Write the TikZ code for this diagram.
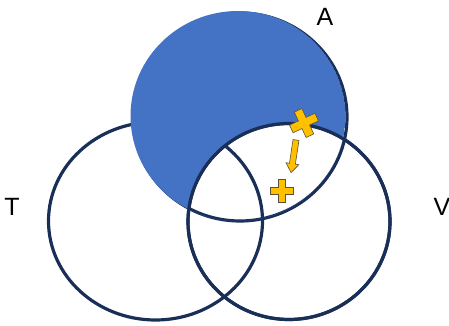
\documentclass[tikz,border=0pt]{standalone}
\usepackage{fontspec}
\setmainfont{Liberation Sans}
\definecolor{ringnavy}{HTML}{1A2F58}
\definecolor{shadeblue}{HTML}{4472C4}
\definecolor{markgold}{HTML}{FFC000}
\definecolor{markedge}{HTML}{5E5230}
\newcommand{\plusmark}[5]{\draw[fill=markgold,draw=markedge,line width=0.6pt,shift={(#1,#2)},rotate=#3] (-#4,-#5)--(-#5,-#5)--(-#5,-#4)--(#5,-#4)--(#5,-#5)--(#4,-#5)--(#4,#5)--(#5,#5)--(#5,#4)--(-#5,#4)--(-#5,#5)--(-#4,#5)--cycle;}
\newcommand{\setletter}{\fontsize{25}{29}\selectfont}

\begin{document}
\begin{tikzpicture}[x=1pt,y=-1pt]
\useasboundingbox (0,0) rectangle (449,326);
\draw[ringnavy,line width=3.2pt] (155.5,221) ellipse[x radius=107,y radius=99];
\draw[ringnavy,line width=3.2pt] (289,221.5) ellipse[x radius=101,y radius=98];
\draw[ringnavy,line width=3.2pt] (240,117) ellipse[x radius=107,y radius=104];
% shading of A outside V
\begin{scope}
\clip (238,116) ellipse[x radius=107.5,y radius=105];
\fill[shadeblue,even odd rule] (238,116) ellipse[x radius=107.5,y radius=105] (289,221.5) ellipse[x radius=101,y radius=98];
\end{scope}
\draw[ringnavy,line width=3.2pt] (289,221.5) ellipse[x radius=101,y radius=98];
\plusmark{304}{123}{25}{14}{4.2}
\plusmark{282}{191}{0}{11.5}{3.5}
\draw[fill=markgold,draw=markedge,line width=0.6pt,shift={(296,140)},rotate=-8.6] (-3,0)--(3,0)--(3,24)--(6.5,24)--(0,33)--(-6.5,24)--(-3,24)--cycle;
\node[font=\setletter] (labA) at (325,17) {A};
\node[font=\setletter] (labT) at (12,207) {T};
\node[font=\setletter] (labV) at (442,207) {V};
\end{tikzpicture}
\end{document}
